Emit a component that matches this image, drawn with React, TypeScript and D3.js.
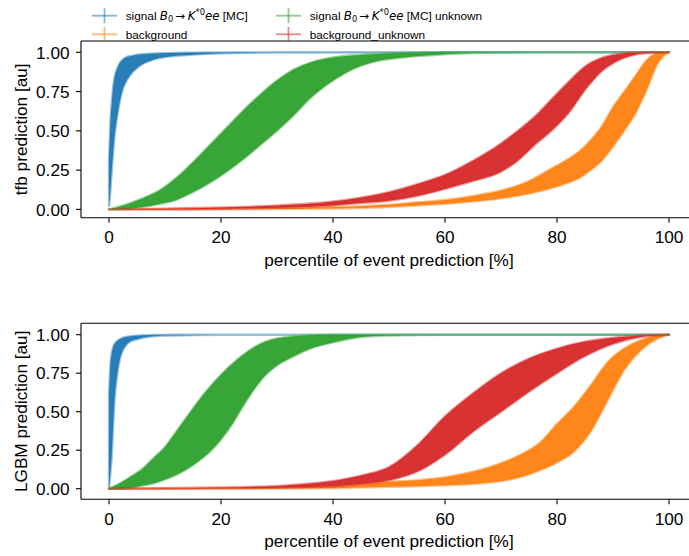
import React from "react";
import * as d3 from "d3";

const W = 689;
const H = 556;

const X_TICKS = [0, 20, 40, 60, 80, 100];
const Y_TICKS = [0, 0.25, 0.5, 0.75, 1];
const COLORS = ["#1f77b4", "#ff7f0e", "#2ca02c", "#d62728"];

// ---- tfb panel ----
const TFB_SIG_P = [0, 0.25, 0.5, 0.75, 1, 1.5, 2, 2.5, 3, 4, 5, 6, 8, 10, 15, 20, 30, 100];
const TFB_SIG_LO = [0.02, 0.12, 0.25, 0.37, 0.47, 0.6, 0.7, 0.77, 0.81, 0.865, 0.9, 0.925, 0.955, 0.97, 0.985, 0.993, 0.998, 1];
const TFB_SIG_HI = [0.3, 0.55, 0.68, 0.78, 0.84, 0.9, 0.935, 0.955, 0.967, 0.977, 0.984, 0.988, 0.992, 0.995, 0.998, 0.999, 1, 1];

const TFB_BKG_P = [0, 20, 40, 50, 55, 60, 65, 70, 75, 79, 82, 84, 86, 88, 90, 92, 94, 96, 98, 100];
const TFB_BKG_LO = [0, 0, 0.005, 0.015, 0.025, 0.035, 0.05, 0.07, 0.1, 0.135, 0.17, 0.2, 0.25, 0.31, 0.4, 0.5, 0.61, 0.76, 0.93, 1];
const TFB_BKG_HI = [0, 0.004, 0.015, 0.03, 0.045, 0.06, 0.085, 0.12, 0.18, 0.26, 0.32, 0.37, 0.44, 0.53, 0.65, 0.75, 0.85, 0.95, 0.995, 1];

const TFB_SIGU_P = [0, 3, 6, 9, 12, 15, 18, 21, 24, 27, 30, 33, 36, 40, 44, 48, 52, 56, 60, 65, 70, 80, 100];
const TFB_SIGU_LO = [0, 0.003, 0.015, 0.035, 0.06, 0.11, 0.17, 0.24, 0.32, 0.41, 0.5, 0.6, 0.71, 0.82, 0.9, 0.945, 0.965, 0.978, 0.988, 0.995, 0.998, 1, 1];
const TFB_SIGU_HI = [0, 0.03, 0.07, 0.12, 0.2, 0.3, 0.41, 0.52, 0.63, 0.73, 0.82, 0.89, 0.935, 0.967, 0.982, 0.99, 0.995, 0.998, 1, 1, 1, 1, 1];

const TFB_BKGU_P = [0, 10, 20, 30, 40, 45, 50, 55, 60, 65, 70, 73, 76, 79, 82, 85, 88, 91, 94, 97, 100];
const TFB_BKGU_LO = [0, 0, 0.004, 0.01, 0.025, 0.04, 0.055, 0.085, 0.13, 0.18, 0.24, 0.31, 0.41, 0.5, 0.61, 0.76, 0.88, 0.95, 0.985, 0.997, 1];
const TFB_BKGU_HI = [0, 0.004, 0.012, 0.025, 0.05, 0.075, 0.11, 0.16, 0.22, 0.31, 0.42, 0.5, 0.59, 0.7, 0.81, 0.91, 0.965, 0.99, 0.998, 1, 1];

// ---- LGBM panel ----
const LGBM_SIG_P = [0, 0.25, 0.5, 0.75, 1, 1.5, 2, 2.5, 3, 4, 5, 6, 8, 10, 15, 20, 30, 100];
const LGBM_SIG_LO = [0, 0.1, 0.22, 0.42, 0.58, 0.75, 0.85, 0.9, 0.93, 0.96, 0.97, 0.98, 0.99, 0.994, 0.997, 0.999, 1, 1];
const LGBM_SIG_HI = [0.6, 0.8, 0.88, 0.92, 0.94, 0.96, 0.972, 0.98, 0.985, 0.99, 0.994, 0.996, 0.998, 0.999, 1, 1, 1, 1];

const LGBM_BKG_P = [0, 20, 40, 50, 55, 60, 65, 68, 71, 74, 77, 80, 83, 86, 89, 92, 95, 98, 100];
const LGBM_BKG_LO = [0, 0, 0.003, 0.012, 0.016, 0.022, 0.03, 0.04, 0.055, 0.08, 0.12, 0.17, 0.24, 0.37, 0.57, 0.77, 0.9, 0.975, 1];
const LGBM_BKG_HI = [0, 0.003, 0.015, 0.045, 0.055, 0.075, 0.11, 0.14, 0.18, 0.23, 0.3, 0.42, 0.53, 0.67, 0.82, 0.91, 0.965, 0.995, 1];

const LGBM_SIGU_P = [0, 2, 4, 6, 8, 10, 12, 14, 16, 18, 20, 22, 24, 26, 28, 30, 33, 36, 40, 45, 50, 60, 100];
const LGBM_SIGU_LO = [0, 0, 0.005, 0.02, 0.035, 0.06, 0.09, 0.13, 0.18, 0.24, 0.32, 0.42, 0.54, 0.65, 0.74, 0.8, 0.86, 0.91, 0.95, 0.985, 0.995, 1, 1];
const LGBM_SIGU_HI = [0, 0.035, 0.08, 0.13, 0.2, 0.27, 0.37, 0.47, 0.57, 0.66, 0.74, 0.81, 0.87, 0.92, 0.955, 0.975, 0.99, 0.997, 1, 1, 1, 1, 1];

const LGBM_BKGU_P = [0, 10, 20, 30, 35, 40, 45, 50, 55, 60, 65, 70, 75, 80, 85, 90, 95, 100];
const LGBM_BKGU_LO = [0, 0, 0.002, 0.006, 0.01, 0.015, 0.03, 0.055, 0.11, 0.22, 0.37, 0.5, 0.63, 0.75, 0.86, 0.94, 0.985, 1];
const LGBM_BKGU_HI = [0, 0.003, 0.008, 0.018, 0.03, 0.05, 0.085, 0.14, 0.28, 0.47, 0.62, 0.75, 0.845, 0.91, 0.955, 0.98, 0.995, 1];

type Band = { p: number[]; lo: number[]; hi: number[]; color: string };

const TFB_BANDS: Band[] = [
  { p: TFB_SIG_P, lo: TFB_SIG_LO, hi: TFB_SIG_HI, color: COLORS[0] },
  { p: TFB_BKG_P, lo: TFB_BKG_LO, hi: TFB_BKG_HI, color: COLORS[1] },
  { p: TFB_SIGU_P, lo: TFB_SIGU_LO, hi: TFB_SIGU_HI, color: COLORS[2] },
  { p: TFB_BKGU_P, lo: TFB_BKGU_LO, hi: TFB_BKGU_HI, color: COLORS[3] },
];
const LGBM_BANDS: Band[] = [
  { p: LGBM_SIG_P, lo: LGBM_SIG_LO, hi: LGBM_SIG_HI, color: COLORS[0] },
  { p: LGBM_BKG_P, lo: LGBM_BKG_LO, hi: LGBM_BKG_HI, color: COLORS[1] },
  { p: LGBM_SIGU_P, lo: LGBM_SIGU_LO, hi: LGBM_SIGU_HI, color: COLORS[2] },
  { p: LGBM_BKGU_P, lo: LGBM_BKGU_LO, hi: LGBM_BKGU_HI, color: COLORS[3] },
];

const FONT = "'Liberation Sans', Arial, Helvetica, sans-serif";
const MATH = "'DejaVu Sans', sans-serif";
const AX_LEFT = 81;
const AX_RIGHT = 697;
const FS = 17.2;

function Panel({ top, bottom, yDomain, bands, ylabel }: { top: number; bottom: number; yDomain: [number, number]; bands: Band[]; ylabel: string }) {
  const x = d3.scaleLinear().domain([-5, 105]).range([AX_LEFT, AX_RIGHT]);
  const y = d3.scaleLinear().domain(yDomain).range([bottom, top]);
  const fmt = d3.format(".2f");
  return (
    <g>
      {bands.map((b, i) => {
        const idx = d3.range(b.p.length);
        const area = d3
          .area<number>()
          .x((k) => x(b.p[k]))
          .y0((k) => y(b.lo[k]))
          .y1((k) => y(b.hi[k]))
          .curve(d3.curveMonotoneX);
        const d = area(idx) || "";
        return (
          <g key={i}>
            <path d={d} fill="none" stroke={b.color} strokeOpacity={0.45} strokeWidth={2.4} strokeLinejoin="round" />
            <path d={d} fill={b.color} fillOpacity={0.95} stroke="none" />
          </g>
        );
      })}
      {/* spines */}
      <line x1={AX_LEFT} x2={AX_RIGHT} y1={top} y2={top} stroke="#000" strokeWidth={1.1} />
      <line x1={AX_LEFT} x2={AX_RIGHT} y1={bottom} y2={bottom} stroke="#000" strokeWidth={1.1} />
      <line x1={AX_LEFT} x2={AX_LEFT} y1={top} y2={bottom} stroke="#000" strokeWidth={1.1} />
      <line x1={AX_RIGHT} x2={AX_RIGHT} y1={top} y2={bottom} stroke="#000" strokeWidth={1.1} />
      {X_TICKS.map((t) => (
        <g key={"x" + t}>
          <line x1={x(t)} x2={x(t)} y1={bottom} y2={bottom + 5} stroke="#000" strokeWidth={1.1} />
          <text x={x(t)} y={bottom + 13.5} dy="0.71em" textAnchor="middle" fontSize={FS} fontFamily={FONT} fill="#000">
            {t}
          </text>
        </g>
      ))}
      {Y_TICKS.map((t) => (
        <g key={"y" + t}>
          <line x1={AX_LEFT - 5} x2={AX_LEFT} y1={y(t)} y2={y(t)} stroke="#000" strokeWidth={1.1} />
          <text x={AX_LEFT - 11.5} y={y(t)} dy="0.36em" textAnchor="end" fontSize={FS} fontFamily={FONT} fill="#000">
            {fmt(t)}
          </text>
        </g>
      ))}
      <text x={(AX_LEFT + AX_RIGHT) / 2} y={bottom + 48} textAnchor="middle" fontSize={FS} fontFamily={FONT} fill="#000">
        percentile of event prediction [%]
      </text>
      <text transform={`translate(27,${(top + bottom) / 2}) rotate(-90)`} textAnchor="middle" fontSize={FS} fontFamily={FONT} fill="#000">
        {ylabel}
      </text>
    </g>
  );
}

function SigLabel({ suffix }: { suffix: string }) {
  return (
    <>
      <tspan>signal </tspan>
      <tspan fontStyle="italic" fontFamily={MATH}>B</tspan>
      <tspan fontSize={8.3} dy={2.5} fontFamily={MATH}>0</tspan>
      <tspan dy={-2.5} fontFamily={MATH}>{"\u2009→\u2009"}</tspan>
      <tspan fontStyle="italic" fontFamily={MATH}>K</tspan>
      <tspan fontSize={8.3} dy={-5} fontFamily={MATH}>*0</tspan>
      <tspan fontStyle="italic" dy={5} fontFamily={MATH}>ee</tspan>
      <tspan>{" [MC]" + suffix}</tspan>
    </>
  );
}

function LegendHandle({ x0, yc, color }: { x0: number; yc: number; color: string }) {
  return (
    <g stroke={color} strokeOpacity={0.55} strokeWidth={1.8}>
      <line x1={x0} x2={x0 + 25} y1={yc} y2={yc} />
      <line x1={x0 + 12.5} x2={x0 + 12.5} y1={yc - 7.5} y2={yc + 7.5} />
    </g>
  );
}

export default function App() {
  const rows = [15.7, 34.3];
  const cols = [92, 276];
  const textOff = 33.7;
  const legendFont = 11.8;
  return (
    <svg width={W} height={H} style={{ position: "absolute", left: 0, top: 0, background: "#fff" }} fontFamily={FONT}>
      <rect x={0} y={0} width={W} height={H} fill="#fff" />
      <Panel top={41} bottom={217.7} yDomain={[-0.053, 1.072]} bands={TFB_BANDS} ylabel="tfb prediction [au]" />
      <Panel top={323.3} bottom={499.3} yDomain={[-0.069, 1.074]} bands={LGBM_BANDS} ylabel="LGBM prediction [au]" />
      {/* legend */}
      <LegendHandle x0={cols[0]} yc={rows[0]} color={COLORS[0]} />
      <LegendHandle x0={cols[0]} yc={rows[1]} color={COLORS[1]} />
      <LegendHandle x0={cols[1]} yc={rows[0]} color={COLORS[2]} />
      <LegendHandle x0={cols[1]} yc={rows[1]} color={COLORS[3]} />
      <text x={cols[0] + textOff} y={rows[0]} dy="0.36em" fontSize={legendFont} fill="#000">
        <SigLabel suffix="" />
      </text>
      <text x={cols[0] + textOff} y={rows[1]} dy="0.36em" fontSize={legendFont} fill="#000">
        background
      </text>
      <text x={cols[1] + textOff} y={rows[0]} dy="0.36em" fontSize={legendFont} fill="#000">
        <SigLabel suffix=" unknown" />
      </text>
      <text x={cols[1] + textOff} y={rows[1]} dy="0.36em" fontSize={legendFont} fill="#000">
        background_unknown
      </text>
    </svg>
  );
}
